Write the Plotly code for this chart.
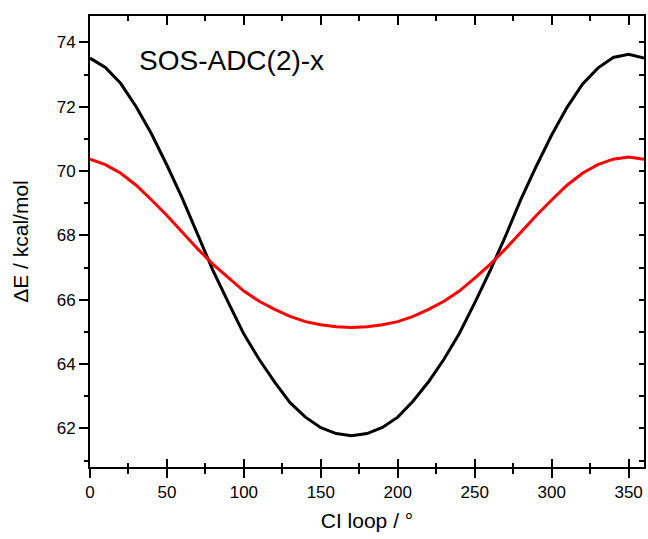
import plotly.graph_objects as go

angles = list(range(0, 361, 10))
black_dE = [73.51, 73.22, 72.72, 72.00, 71.15, 70.18, 69.15, 68.02, 66.90, 65.90,
            64.93, 64.14, 63.44, 62.80, 62.35, 62.02, 61.84, 61.77, 61.84, 62.03,
            62.35, 62.85, 63.45, 64.15, 64.95, 65.90, 66.90, 67.98, 69.12, 70.15,
            71.12, 71.98, 72.70, 73.20, 73.53, 73.63, 73.51]
red_dE = [70.37, 70.20, 69.93, 69.56, 69.10, 68.62, 68.10, 67.58, 67.10, 66.67,
          66.27, 65.95, 65.70, 65.48, 65.32, 65.22, 65.16, 65.14, 65.16, 65.22,
          65.32, 65.48, 65.70, 65.95, 66.27, 66.67, 67.10, 67.58, 68.10, 68.62,
          69.10, 69.56, 69.93, 70.20, 70.37, 70.44, 70.37]
x_ticks = [0, 50, 100, 150, 200, 250, 300, 350]
y_ticks = [62, 64, 66, 68, 70, 72, 74]
label_text = "SOS-ADC(2)-x"
x_title = "CI loop / °"
y_title = "ΔE / kcal/mol"

FONT = "Liberation Sans, Arial, sans-serif"
xr = [0, 360]
yr = [60.8, 74.82]

fig = go.Figure()
fig.add_trace(go.Scatter(x=angles, y=black_dE, mode="lines",
                         line=dict(color="black", width=3), showlegend=False))
fig.add_trace(go.Scatter(x=angles, y=red_dE, mode="lines",
                         line=dict(color="#ff0000", width=3), showlegend=False))
# dummy traces so overlay axes are drawn
fig.add_trace(go.Scatter(x=[None], y=[None], xaxis="x2", yaxis="y", showlegend=False))
fig.add_trace(go.Scatter(x=[None], y=[None], xaxis="x3", yaxis="y", showlegend=False))
fig.add_trace(go.Scatter(x=[None], y=[None], xaxis="x", yaxis="y2", showlegend=False))

fig.add_annotation(text=label_text, x=0.085, y=0.902, xref="paper", yref="paper",
                   xanchor="left", yanchor="middle", showarrow=False,
                   font=dict(family=FONT, size=28, color="black"))

common = dict(showgrid=False, zeroline=False, linecolor="black", linewidth=2,
              tickcolor="black", tickwidth=2)

fig.update_layout(
    width=648, height=539,
    margin=dict(l=90, r=4, t=16, b=72),
    paper_bgcolor="white", plot_bgcolor="white",
    font=dict(family=FONT, color="black"),
    xaxis=dict(range=xr, tickvals=x_ticks, ticks="outside", ticklen=9,
               showline=True, tickfont=dict(size=17),
               minor=dict(dtick=25, tick0=0, ticks="outside", ticklen=5,
                          tickcolor="black", tickwidth=2),
               title=dict(text=x_title, font=dict(size=21), standoff=12),
               **common),
    xaxis3=dict(range=xr, overlaying="x", side="bottom", anchor="y",
                tickvals=x_ticks, ticks="inside", ticklen=8, showline=False,
                showticklabels=False,
                minor=dict(dtick=25, tick0=0, ticks="inside", ticklen=4,
                           tickcolor="black", tickwidth=2),
                **common),
    xaxis2=dict(range=xr, overlaying="x", side="top", anchor="y",
                tickvals=x_ticks, ticks="inside", ticklen=9, showline=True,
                showticklabels=False,
                minor=dict(dtick=25, tick0=0, ticks="inside", ticklen=5,
                           tickcolor="black", tickwidth=2),
                **common),
    yaxis=dict(range=yr, tickvals=y_ticks, ticks="outside", ticklen=9,
               showline=True, tickfont=dict(size=17),
               minor=dict(dtick=1, tick0=60, ticks="outside", ticklen=4,
                          tickcolor="black", tickwidth=2),
               title=dict(text=y_title, font=dict(size=21), standoff=22),
               **common),
    yaxis2=dict(range=yr, overlaying="y", side="right", anchor="x",
                tickvals=y_ticks, ticks="inside", ticklen=5, showline=True,
                showticklabels=False,
                minor=dict(dtick=1, tick0=60, ticks="inside", ticklen=5,
                           tickcolor="black", tickwidth=2),
                **common),
)

fig.write_html("out.html")
